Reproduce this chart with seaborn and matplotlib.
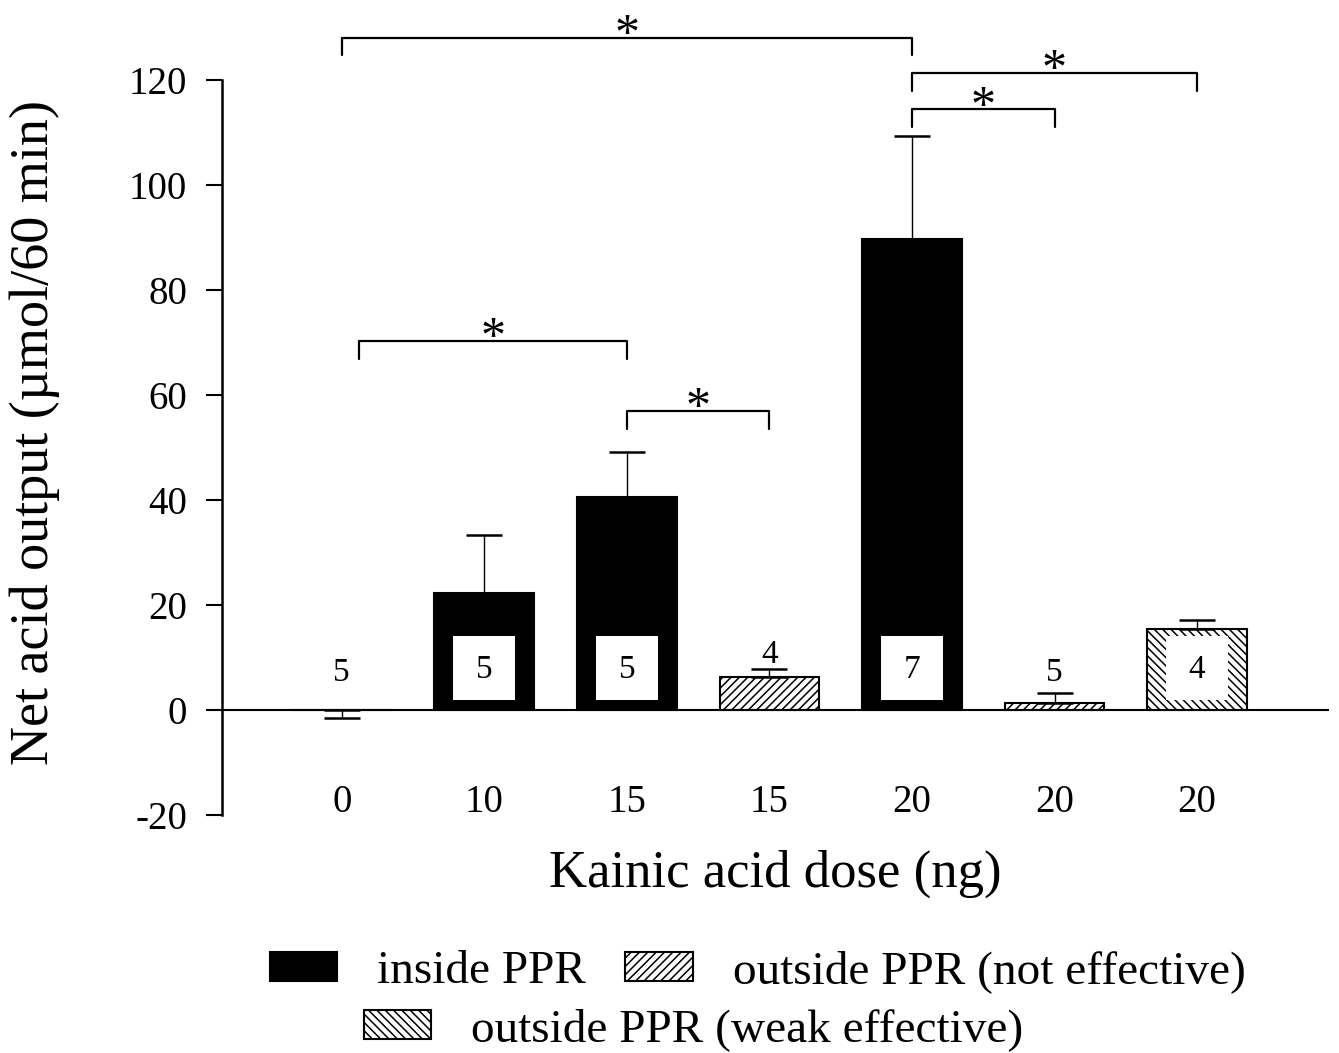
import pandas as pd
import matplotlib.pyplot as plt
import seaborn as sns
from matplotlib.patches import Patch, Rectangle

# values
groups = ['g0', 'g1', 'g2', 'g3', 'g4', 'g5', 'g6']
doses = ['0', '10', '15', '15', '20', '20', '20']
site = ['inside', 'inside', 'inside', 'not', 'inside', 'not', 'weak']
acid_mean = [0.0, 22.2, 40.6, 6.2, 89.8, 1.3, 15.4]
acid_sem = [1.45, 11.2, 8.5, 1.7, 19.6, 1.9, 1.7]
n_rats = [5, 5, 5, 4, 7, 5, 4]

# significance brackets (bar index at each end, height of the bar line)
bracket_left = [0, 0.12, 2, 4, 4]
bracket_right = [4, 2, 3, 5, 6]
bracket_top = [128.1, 70.3, 57.0, 114.4, 121.3]

site_order = ['inside', 'not', 'weak']
site_labels = ['inside PPR', 'outside PPR (not effective)', 'outside PPR (weak effective)']

df = pd.DataFrame({'group': groups, 'dose': doses, 'site': site, 'mean': acid_mean})

sns.set_style('ticks')
plt.rcParams['font.family'] = ['Liberation Serif', 'DejaVu Serif']
plt.rcParams['hatch.linewidth'] = 1.1
plt.rcParams['axes.unicode_minus'] = False
for key in ['text.color', 'axes.labelcolor', 'xtick.color', 'ytick.color', 'axes.edgecolor']:
    plt.rcParams[key] = 'black'

fill = {'inside': 'black', 'not': 'white', 'weak': 'white'}
hatch = {'inside': '', 'not': '////', 'weak': '\\\\\\\\'}

fig = plt.figure(figsize=(13.39, 10.53), dpi=100)
ax = fig.add_axes([0.1658, 0.226, 0.8267, 0.698])

sns.barplot(data=df, x='group', y='mean', order=groups, color='black',
            width=0.7, errorbar=None, ax=ax)

bars = list(ax.patches)
centers = []
for bar, s in zip(bars, site):
    bar.set_facecolor(fill[s])
    bar.set_edgecolor('black')
    bar.set_linewidth(1.5)
    bar.set_hatch(hatch[s])
    centers.append(bar.get_x() + bar.get_width() / 2)

# one-sided SEM bars
lower = [s if m <= 0 else 0 for m, s in zip(acid_mean, acid_sem)]
upper = [0 if m <= 0 else s for m, s in zip(acid_mean, acid_sem)]
ax.errorbar(centers, acid_mean, yerr=[lower, upper], fmt='none', ecolor='black',
            elinewidth=1.0, capsize=13.3, capthick=1.8, zorder=3)

# n per group, in a white box when the bar is tall enough
for bar, cx, m, up, n in zip(bars, centers, acid_mean, upper, n_rats):
    if m > 14.5:
        w = bar.get_width()
        ax.add_patch(Rectangle((bar.get_x() + 0.19 * w, 2.0), 0.62 * w, 12.1,
                               facecolor='white', edgecolor='none', zorder=2.5))
        ax.text(cx, 7.6, str(n), ha='center', va='center', fontsize=24, zorder=4)
    else:
        ax.text(cx, max(max(m, 0) + up + 3, 7.5) - 0.4, str(n),
                ha='center', va='center', fontsize=24, zorder=4)

for x0, x1, top in zip(bracket_left, bracket_right, bracket_top):
    ax.plot([x0, x0, x1, x1], [top - 3.4, top, top, top - 3.4],
            color='black', lw=1.6, clip_on=False)
    ax.text((x0 + x1) / 2, top + 0.4, '*', ha='center', va='center',
            fontsize=36, clip_on=False)

ax.axhline(0, color='black', lw=1.5, zorder=1.5)
ax.set_xlim(-0.84, 6.925)
ax.set_ylim(-20, 120)
ax.set_yticks(range(-20, 121, 20))
ax.set_xticks(range(len(doses)))
ax.set_xticklabels(doses)

sns.despine(ax=ax, bottom=True)
ax.spines['left'].set_linewidth(1.8)
ax.tick_params(axis='y', direction='out', length=11.5, width=1.5, pad=13.5, labelsize=28)
ax.tick_params(axis='x', length=0, pad=-22, labelsize=28)

ax.set_xlabel('Kainic acid dose (ng)', fontsize=38)
ax.xaxis.set_label_coords(0.5, -0.0476)
ax.set_ylabel('Net acid output (µmol/60 min)', fontsize=39)
ax.yaxis.set_label_coords(-0.1466, 0.521)

handles = [Patch(facecolor=fill[k], edgecolor='black', hatch=hatch[k], linewidth=1.5)
           for k in site_order]
leg_kw = dict(loc='center', frameon=False, fontsize=34, handlelength=1.42,
              handleheight=0.55, handletextpad=0.85, columnspacing=0.83,
              borderpad=0, borderaxespad=0)
fig.legend(handles[:2], site_labels[:2], ncol=2, bbox_to_anchor=(0.566, 0.077), **leg_kw)
fig.legend(handles[2:], site_labels[2:], ncol=1, bbox_to_anchor=(0.518, 0.022), **leg_kw)

fig.savefig('out.png', dpi=100)
